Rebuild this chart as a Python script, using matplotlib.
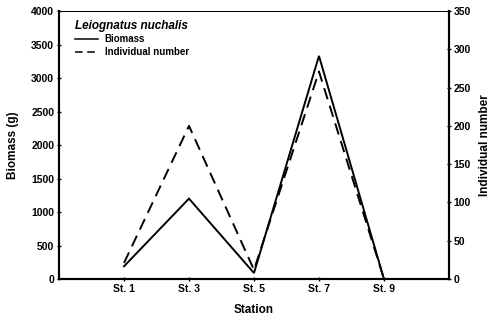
"""Biomass and individual count of Leiognatus nuchalis by station."""
import matplotlib

matplotlib.use("Agg")
import matplotlib.pyplot as plt
from matplotlib.lines import Line2D

plt.rcParams["font.family"] = ["Liberation Sans", "DejaVu Sans"]
plt.rcParams["font.weight"] = "bold"

stations = ["St. 1", "St. 3", "St. 5", "St. 7", "St. 9"]
biomass_g = [190, 1200, 90, 3330, 0]
individual_number = [21, 200, 12, 271, 0]
species = "Leiognatus nuchalis"

fig = plt.figure(figsize=(4.98, 3.2), dpi=100)
ax = fig.add_axes([0.1185, 0.128, 0.783, 0.8375])
ax2 = ax.twinx()

x = list(range(1, len(stations) + 1))
ax.plot(x, biomass_g, color="black", lw=1.4, solid_joinstyle="miter")
ax2.plot(x, individual_number, color="black", lw=1.4, dashes=(6, 3.5))

ax.set_xlim(0, len(stations) + 1)
ax.set_xticks(x)
ax.set_xticklabels(stations)
ax.set_ylim(0, 4000)
ax.set_yticks(range(0, 4001, 500))
ax2.set_ylim(0, 350)
ax2.set_yticks(range(0, 351, 50))

tick_kw = dict(labelsize=7.5, length=3, width=1, direction="inout", pad=2)
ax.tick_params(axis="both", **tick_kw)
ax2.tick_params(axis="y", **tick_kw)

for a in (ax, ax2):
    for side in ("left", "right", "bottom"):
        a.spines[side].set_linewidth(1.5)
    a.spines["top"].set_linewidth(0.7)

ax.set_xlabel("Station", fontsize=8.5, fontweight="bold", labelpad=7)
ax.set_ylabel("Biomass (g)", fontsize=8.5, fontweight="bold", labelpad=9)
ax2.set_ylabel("Individual number", fontsize=8.5, fontweight="bold", labelpad=6)

handles = [
    Line2D([], [], color="black", lw=1.1),
    Line2D([], [], color="black", lw=1.1, dashes=(5, 3)),
]
leg = ax.legend(
    handles, ["Biomass", "Individual number"],
    title=species, loc="upper left", bbox_to_anchor=(0.025, 0.99),
    frameon=False, fontsize=7, handlelength=2.4, handletextpad=0.7,
    labelspacing=0.3, borderaxespad=0.2,
)
leg.get_title().set_fontstyle("italic")
leg.get_title().set_fontweight("bold")
leg.get_title().set_fontsize(8.5)
leg._legend_box.align = "left"

fig.savefig("out.png", dpi=100)
